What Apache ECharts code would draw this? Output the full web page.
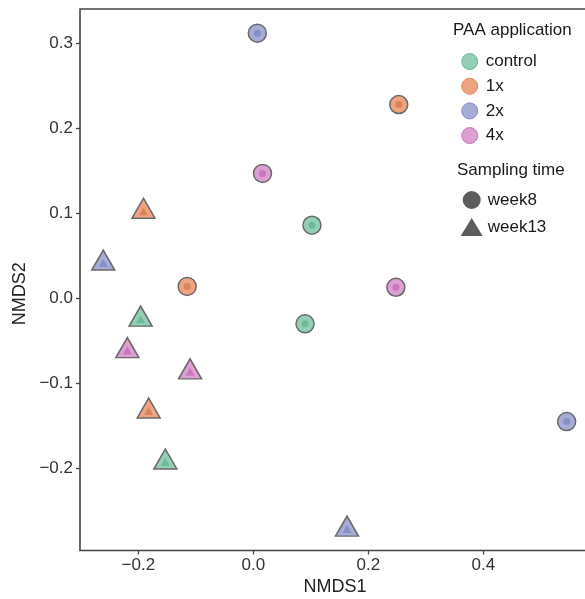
<!DOCTYPE html>
<html>
<head>
<meta charset="utf-8">
<script src="https://cdn.jsdelivr.net/npm/echarts@6/dist/echarts.min.js"></script>
<style>
html,body{margin:0;padding:0;background:#fff;}
#chart{width:585px;height:599px;}
</style>
</head>
<body>
<div id="chart"></div>
<script>
// ---- data ----
const groups = ['control', '1x', '2x', '4x'];
const times = ['week8', 'week13'];
const sampleGroup = ['2x', '1x', '4x', 'control', '1x', '4x', 'control', '2x',
                     '1x', '2x', 'control', '4x', '4x', '1x', 'control', '2x'];
const sampleTime = ['week8', 'week8', 'week8', 'week8', 'week8', 'week8', 'week8', 'week8',
                    'week13', 'week13', 'week13', 'week13', 'week13', 'week13', 'week13', 'week13'];
const nmds1 = [0.007, 0.253, 0.016, 0.102, -0.115, 0.248, 0.090, 0.545,
               -0.191, -0.261, -0.196, -0.219, -0.110, -0.182, -0.153, 0.163];
const nmds2 = [0.312, 0.228, 0.147, 0.086, 0.014, 0.013, -0.030, -0.145,
               0.106, 0.045, -0.021, -0.058, -0.083, -0.129, -0.189, -0.268];
const xTicks = [-0.2, 0.0, 0.2, 0.4];
const yTicks = [-0.2, -0.1, 0.0, 0.1, 0.2, 0.3];

// ---- styles ----
const outerColor = {control: '#93cfb5', '1x': '#eda47f', '2x': '#a6acd6', '4x': '#dc9fd1'};
const innerColor = {control: '#6db99a', '1x': '#d9845c', '2x': '#8290c6', '4x': '#c877bd'};
const FONT = '"Liberation Sans", Arial, Helvetica, sans-serif';

function fmt(v) {
  const s = Math.abs(v).toFixed(1);
  return (v < -1e-9 ? '\u2212' : '') + s;
}

const series = [];
groups.forEach(g => {
  times.forEach(t => {
    const pts = [];
    for (let i = 0; i < nmds1.length; i++) {
      if (sampleGroup[i] === g && sampleTime[i] === t) pts.push([nmds1[i], nmds2[i]]);
    }
    const tri = t === 'week13';
    series.push({
      name: g, type: 'scatter', data: pts,
      symbol: tri ? 'triangle' : 'circle',
      symbolSize: tri ? [23, 20] : 18,
      itemStyle: {color: outerColor[g], borderColor: '#6a6a6a', borderWidth: 1.5, opacity: 1},
      emphasis: {disabled: true}, z: 2
    });
    series.push({
      name: g, type: 'scatter', data: pts,
      symbol: tri ? 'triangle' : 'circle',
      symbolSize: tri ? [9, 8] : 7,
      symbolOffset: tri ? [0, 3] : [0, 0],
      itemStyle: {color: innerColor[g], opacity: 1},
      emphasis: {disabled: true}, z: 3
    });
  });
});
times.forEach(t => series.push({name: t, type: 'scatter', data: [], itemStyle: {color: '#333'}}));

const chart = echarts.init(document.getElementById('chart'));
chart.setOption({
  animation: false,
  backgroundColor: '#fff',
  grid: {left: 80, top: 9, width: 510, bottom: 48.5, show: true, borderColor: '#444', borderWidth: 1.6,
         containLabel: false, outerBoundsMode: 'none'},
  xAxis: {
    type: 'value', min: -0.3014, max: 0.5856,
    name: 'NMDS1', nameLocation: 'middle', nameGap: 24,
    nameTextStyle: {fontFamily: FONT, fontSize: 18, color: '#222'},
    axisLine: {show: false, onZero: false},
    axisTick: {show: true, length: 4, lineStyle: {color: '#444', width: 1.3}, customValues: xTicks},
    axisLabel: {fontFamily: FONT, fontSize: 17, color: '#333', margin: 6, customValues: xTicks, formatter: fmt},
    splitLine: {show: false}
  },
  yAxis: {
    type: 'value', min: -0.2967, max: 0.3404,
    name: 'NMDS2', nameLocation: 'middle', nameGap: 49,
    nameTextStyle: {fontFamily: FONT, fontSize: 18, color: '#222', padding: [0, 28, 0, 0]},
    axisLine: {show: false, onZero: false},
    axisTick: {show: true, length: 4, lineStyle: {color: '#444', width: 1.3}, customValues: yTicks},
    axisLabel: {fontFamily: FONT, fontSize: 17, color: '#333', margin: 7, customValues: yTicks, formatter: fmt},
    splitLine: {show: false}
  },
  legend: [
    {
      data: groups.map(g => ({name: g, icon: 'circle', itemStyle: {color: outerColor[g], borderColor: innerColor[g], borderWidth: 1}})),
      orient: 'vertical', left: 456.2, top: 48, itemWidth: 22, itemHeight: 16, itemGap: 7.7,
      selectedMode: false,
      textStyle: {fontFamily: FONT, fontSize: 17, color: '#1a1a1a'}
    },
    {
      data: [{name: 'week8', icon: 'circle'}, {name: 'week13', icon: 'triangle'}],
      orient: 'vertical', left: 455.7, top: 186, itemWidth: 22, itemHeight: 18, itemGap: 9,
      selectedMode: false,
      textStyle: {fontFamily: FONT, fontSize: 17, color: '#1a1a1a'}
    }
  ],
  graphic: [
    {type: 'text', left: 453, top: 21.5, style: {text: 'PAA application', font: '17px ' + FONT, fill: '#1a1a1a'}},
    {type: 'text', left: 457, top: 161.5, style: {text: 'Sampling time', font: '17px ' + FONT, fill: '#1a1a1a'}}
  ],
  series: series
});
</script>
</body>
</html>
